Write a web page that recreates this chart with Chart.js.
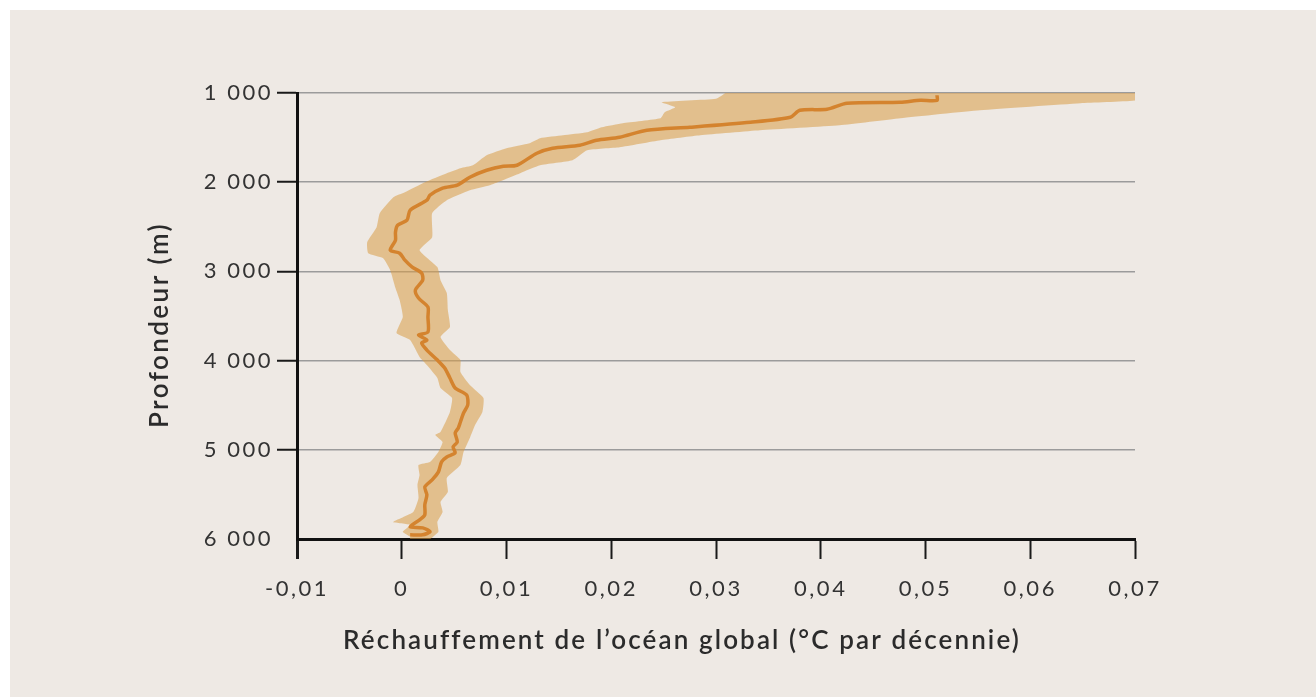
<!DOCTYPE html>
<html lang="fr">
<head>
<meta charset="utf-8">
<title>Réchauffement de l'océan global</title>
<script src="https://cdn.jsdelivr.net/npm/chart.js@4.4.0/dist/chart.umd.min.js"></script>
<style>
  html, body { margin: 0; padding: 0; background: #ffffff; }
  canvas { display: block; }
</style>
</head>
<body>
<canvas id="chart" width="1316" height="697"></canvas>
<script>
'use strict';

// profondeur (m) / réchauffement moyen (°C par décennie)
const meanDepth = [1026, 1082, 1082, 1104, 1115, 1182, 1194, 1272, 1328, 1384,
  1418, 1496, 1530, 1586, 1619, 1675, 1810, 1821, 1866, 1944,
  2034, 2067, 2146, 2202, 2314, 2426, 2482, 2560, 2650, 2762,
  2796, 2874, 2952, 3019, 3098, 3210, 3299, 3400, 3512, 3680,
  3714, 3770, 3803, 3882, 3994, 4083, 4195, 4307, 4386, 4498,
  4587, 4688, 4755, 4811, 4912, 4968, 5035, 5080, 5136, 5248,
  5337, 5416, 5505, 5617, 5729, 5785, 5863, 5875, 5919, 5953,
  5953]
const meanWarming = [0.0511, 0.0511, 0.0495, 0.0476, 0.0425, 0.0406, 0.0380, 0.0371, 0.0333, 0.0275,
  0.0234, 0.0208, 0.0186, 0.0170, 0.0144, 0.0129, 0.0110, 0.0097, 0.0081, 0.0065,
  0.0053, 0.0039, 0.0027, 0.0024, 0.0008, 0.0005, -0.0004, -0.0006, -0.0006, -0.0011,
  -0.0002, 0.0003, 0.0010, 0.0019, 0.0020, 0.0013, 0.0016, 0.0025, 0.0025, 0.0025,
  0.0016, 0.0024, 0.0019, 0.0024, 0.0034, 0.0041, 0.0046, 0.0051, 0.0062, 0.0063,
  0.0059, 0.0056, 0.0054, 0.0051, 0.0053, 0.0049, 0.0051, 0.0043, 0.0038, 0.0035,
  0.0029, 0.0022, 0.0024, 0.0022, 0.0022, 0.0017, 0.0008, 0.0020, 0.0027, 0.0020,
  0.0008]

// bord gauche de l'incertitude
const lowDepth = [1000, 1065, 1104, 1160, 1216, 1283, 1339, 1384, 1440, 1474,
  1507, 1563, 1619, 1698, 1810, 1843, 1899, 2000, 2112, 2168,
  2347, 2504, 2672, 2796, 2851, 2986, 3187, 3322, 3512, 3691,
  3770, 3960, 4050, 4195, 4307, 4419, 4576, 4800, 4833, 4912,
  5024, 5136, 5170, 5282, 5393, 5539, 5696, 5808, 5841, 5919,
  5975, 6000]
const lowWarming = [0.0309, 0.0300, 0.0248, 0.0261, 0.0251, 0.0247, 0.0211, 0.0191, 0.0177, 0.0154,
  0.0132, 0.0122, 0.0100, 0.0081, 0.0068, 0.0056, 0.0043, 0.0022, 0.0003, -0.0008,
  -0.0021, -0.0024, -0.0033, -0.0032, -0.0018, -0.0011, -0.0006, -0.0002, 0.0001, -0.0005,
  0.0008, 0.0017, 0.0024, 0.0034, 0.0037, 0.0048, 0.0046, 0.0037, 0.0032, 0.0039,
  0.0035, 0.0027, 0.0016, 0.0017, 0.0015, 0.0016, 0.0011, -0.0008, 0.0008, 0.0001,
  0.0008, 0.0008]

// bord droit de l'incertitude
const highDepth = [1000, 1082, 1115, 1194, 1283, 1362, 1418, 1474, 1530, 1608,
  1642, 1754, 1810, 1899, 1989, 2034, 2090, 2202, 2347, 2616,
  2762, 2952, 3098, 3243, 3434, 3624, 3736, 3882, 3994, 4128,
  4274, 4419, 4576, 4722, 4867, 5024, 5170, 5315, 5472, 5584,
  5696, 5808, 5919, 5975, 6000]
const highWarming = [0.0702, 0.0702, 0.0648, 0.0552, 0.0476, 0.0418, 0.0342, 0.0285, 0.0247, 0.0208,
  0.0177, 0.0163, 0.0132, 0.0113, 0.0094, 0.0084, 0.0065, 0.0043, 0.0029, 0.0029,
  0.0017, 0.0034, 0.0037, 0.0043, 0.0044, 0.0046, 0.0037, 0.0046, 0.0056, 0.0056,
  0.0065, 0.0078, 0.0077, 0.0070, 0.0065, 0.0059, 0.0056, 0.0043, 0.0044, 0.0037,
  0.0039, 0.0034, 0.0035, 0.0030, 0.0027]

const depthTicks = [1000, 2000, 3000, 4000, 5000, 6000]
const warmingTicks = [-0.01, 0, 0.01, 0.02, 0.03, 0.04, 0.05, 0.06, 0.07]

const xTitle = 'Réchauffement de l’océan global (°C par décennie)'
const yTitle = 'Profondeur (m)'

const meanPoints = meanDepth.map((d, i) => ({x: meanWarming[i], y: d}))
// the band is one closed shape: down the left edge, back up the right edge
const bandPoints = lowDepth.map((d, i) => ({x: lowWarming[i], y: d}))
  .concat(highDepth.map((d, i) => ({x: highWarming[i], y: d})).reverse())

function depthLabel(v) {
  return String(v).replace(/\B(?=(\d{3})+$)/g, ' ')
}

function warmingLabel(v) {
  if (Math.abs(v) < 1e-9) return '0'
  return v.toFixed(2).replace('.', ',')
}

// draws the paper, and the two axis titles
const paper = {
  id: 'paper',
  beforeDraw(chart) {
    const ctx = chart.ctx
    ctx.save()
    ctx.fillStyle = '#ffffff'
    ctx.fillRect(0, 0, chart.width, chart.height)
    ctx.fillStyle = '#eee9e4'
    ctx.fillRect(10, 10, chart.width - 10, chart.height - 10)
    ctx.restore()
    ctx.letterSpacing = '2.5px'
  },
  afterDraw(chart) {
    const ctx = chart.ctx
    ctx.save()
    ctx.fillStyle = '#2b2b2b'
    ctx.font = '600 26px Lato'
    ctx.textAlign = 'center'
    ctx.textBaseline = 'alphabetic'

    ctx.letterSpacing = '0px'
    let w = ctx.measureText(xTitle).width
    ctx.letterSpacing = ((677 - w) / xTitle.length).toFixed(2) + 'px'
    ctx.fillText(xTitle, 682, 649)

    ctx.letterSpacing = '0px'
    w = ctx.measureText(yTitle).width
    ctx.letterSpacing = ((206 - w) / yTitle.length).toFixed(2) + 'px'
    ctx.translate(168, 325)
    ctx.rotate(-Math.PI / 2)
    ctx.fillText(yTitle, 0, 0)
    ctx.restore()
    ctx.letterSpacing = '0px'
  }
}

const tickFont = {family: 'Lato', size: 22, weight: '400'}

const config = {
  type: 'line',
  data: {
    datasets: [
      {
        label: 'moyenne',
        data: meanPoints,
        borderColor: '#d4832e',
        borderWidth: 3.5,
        pointRadius: 0,
        tension: 0.25,
        fill: false,
        order: 1,
      },
      {
        label: 'incertitude',
        data: bandPoints,
        borderColor: 'rgba(0,0,0,0)',
        borderWidth: 0,
        backgroundColor: 'rgba(217,156,70,0.55)',
        pointRadius: 0,
        tension: 0.15,
        fill: 'shape',
        order: 2,
      },
    ]
  },
  options: {
    responsive: false,
    devicePixelRatio: 1,
    animation: false,
    layout: {padding: {top: 93, right: 181, bottom: 0, left: 0}},
    plugins: {
      legend: {display: false},
      tooltip: {enabled: false},
    },
    scales: {
      x: {
        type: 'linear',
        min: warmingTicks[0],
        max: warmingTicks[warmingTicks.length - 1],
        afterFit(scale) { scale.height = 158 },
        afterBuildTicks(scale) { scale.ticks = warmingTicks.map(v => ({value: v})) },
        ticks: {
          padding: 17,
          color: '#333333',
          font: tickFont,
          maxRotation: 0,
          autoSkip: false,
          callback: warmingLabel,
        },
        grid: {
          drawOnChartArea: false,
          tickLength: 20,
          tickColor: '#1a1a1a',
          tickWidth: (c) => (c.tick && c.tick.value < -0.005 ? 3 : 2),
        },
        border: {color: '#111111', width: 3},
      },
      y: {
        type: 'linear',
        reverse: true,
        min: depthTicks[0],
        max: depthTicks[depthTicks.length - 1],
        afterFit(scale) { scale.width = 297 },
        afterBuildTicks(scale) { scale.ticks = depthTicks.map(v => ({value: v})) },
        ticks: {
          padding: 4,
          color: '#333333',
          font: tickFont,
          autoSkip: false,
          callback: depthLabel,
        },
        grid: {
          color: '#9b9b9b',
          lineWidth: 1.5,
          tickLength: 20,
          tickWidth: 2,
          tickColor: (c) => (c.tick && c.tick.value === 6000 ? 'rgba(0,0,0,0)' : '#1a1a1a'),
        },
        border: {color: '#111111', width: 3},
      },
    },
  },
  plugins: [paper],
}

const resultChart = new Chart(document.getElementById('chart'), config)
</script>
</body>
</html>
